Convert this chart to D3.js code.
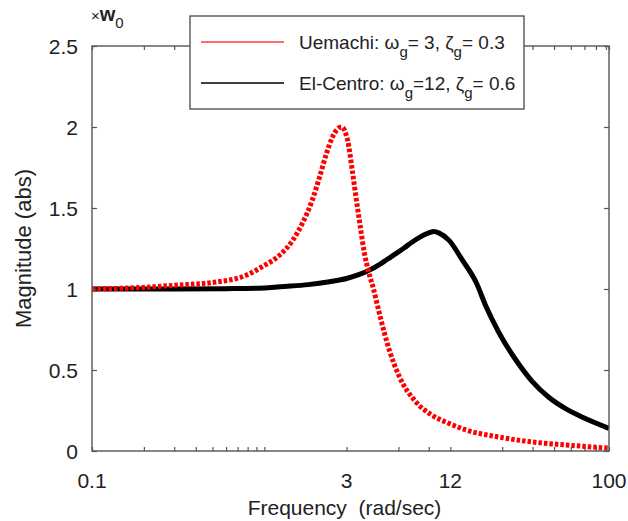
<!DOCTYPE html>
<html>
<head>
<meta charset="utf-8">
<script src="https://cdn.jsdelivr.net/npm/d3@7"></script>
<style>
  body { margin: 0; background: #fff; }
  svg { display: block; font-family: "Liberation Sans", Arial, sans-serif; }
</style>
</head>
<body>
<svg id="chart" width="628" height="521"></svg>
<script>
// data
var uemachiFreq = [0.1, 0.2, 0.32, 0.5, 0.79, 0.98, 1.23, 1.46, 1.67, 1.9, 2.09, 2.3, 2.49, 2.8, 3.04, 3.25, 3.42, 3.61, 3.81, 4.02, 4.3, 4.65, 5.32, 6.07, 7.62, 9.43, 11.8, 14.8, 23, 35.8, 56.3, 100];
var uemachiMag = [1.0, 1.01, 1.025, 1.04, 1.086, 1.14, 1.21, 1.3, 1.41, 1.55, 1.69, 1.84, 1.94, 2.0, 1.92, 1.72, 1.55, 1.38, 1.22, 1.11, 1.0, 0.85, 0.62, 0.46, 0.3, 0.22, 0.17, 0.13, 0.086, 0.056, 0.037, 0.018];

var elcentroFreq = [0.1, 0.3, 0.6, 1.0, 1.23, 1.8, 2.39, 3.0, 3.56, 4.0, 4.65, 5.2, 5.83, 6.5, 7.22, 8.0, 9.06, 9.6, 10.35, 11.8, 14.07, 16.96, 19.37, 23, 28.9, 35.8, 44.9, 56.3, 69.7, 100];
var elcentroMag = [1.0, 1.0, 1.002, 1.006, 1.014, 1.027, 1.045, 1.065, 1.09, 1.112, 1.15, 1.185, 1.22, 1.255, 1.29, 1.32, 1.348, 1.355, 1.345, 1.3, 1.18, 1.04, 0.89, 0.73, 0.56, 0.43, 0.33, 0.26, 0.21, 0.14];

var xTickLabels = [0.1, 3, 12, 100];
var xMinorTicks = [0.2, 0.3, 0.4, 0.5, 0.6, 0.7, 0.8, 0.9, 1, 6, 9, 24, 36, 48, 60, 72, 84, 96];
var yTicks = [0, 0.5, 1, 1.5, 2, 2.5];

var margin = { left: 92, right: 19, top: 46, bottom: 70 };
var W = 628, H = 521;
var svg = d3.select('#chart');

var x = d3.scaleLog().domain([0.1, 100]).range([margin.left, W - margin.right]);
var y = d3.scaleLinear().domain([0, 2.5]).range([H - margin.bottom, margin.top]);

var axisColor = '#555';
var textColor = '#222';

// curves
var line = d3.line()
  .x(function (d) { return x(d[0]); })
  .y(function (d) { return y(d[1]); })
  .curve(d3.curveMonotoneX);

var plot = svg.append('g');
plot.append('defs').append('clipPath').attr('id', 'clip')
  .append('rect').attr('x', margin.left).attr('y', margin.top)
  .attr('width', W - margin.left - margin.right).attr('height', H - margin.top - margin.bottom);

plot.append('path')
  .datum(d3.zip(elcentroFreq, elcentroMag))
  .attr('clip-path', 'url(#clip)')
  .attr('d', line)
  .attr('fill', 'none')
  .attr('stroke', '#000')
  .attr('stroke-width', 5);

plot.append('path')
  .datum(d3.zip(uemachiFreq, uemachiMag))
  .attr('clip-path', 'url(#clip)')
  .attr('d', line)
  .attr('fill', 'none')
  .attr('stroke', '#ff0000')
  .attr('stroke-width', 5)
  .attr('stroke-dasharray', '3.5 2');

// axes (ticks inward, mirrored on top/right)
var x0 = margin.left, x1 = W - margin.right, y0 = H - margin.bottom, y1 = margin.top;

var bottomAxis = svg.append('g').attr('transform', 'translate(0,' + y0 + ')')
  .call(d3.axisTop(x).tickValues(xTickLabels.concat(xMinorTicks)).tickSize(4).tickFormat(''));
var topAxis = svg.append('g').attr('transform', 'translate(0,' + y1 + ')')
  .call(d3.axisBottom(x).tickValues(xTickLabels.concat(xMinorTicks)).tickSize(4).tickFormat(''));
var leftAxis = svg.append('g').attr('transform', 'translate(' + x0 + ',0)')
  .call(d3.axisRight(y).tickValues(yTicks).tickSize(5).tickFormat(''));
var rightAxis = svg.append('g').attr('transform', 'translate(' + x1 + ',0)')
  .call(d3.axisLeft(y).tickValues(yTicks).tickSize(5).tickFormat(''));

[bottomAxis, topAxis, leftAxis, rightAxis].forEach(function (a) {
  a.select('.domain').remove();
  a.selectAll('line').attr('stroke', axisColor).attr('stroke-width', 1.2);
});

svg.append('rect')
  .attr('x', x0).attr('y', y1)
  .attr('width', x1 - x0).attr('height', y0 - y1)
  .attr('fill', 'none').attr('stroke', axisColor).attr('stroke-width', 1.4);

// tick labels
svg.append('g').selectAll('text').data(xTickLabels).join('text')
  .attr('x', function (d) { return x(d); })
  .attr('y', y0 + 37)
  .attr('text-anchor', 'middle')
  .attr('font-size', 21)
  .attr('fill', textColor)
  .text(function (d) { return d; });

svg.append('g').selectAll('text').data(yTicks).join('text')
  .attr('x', x0 - 14)
  .attr('y', function (d) { return y(d) + 7.5; })
  .attr('text-anchor', 'end')
  .attr('font-size', 21)
  .attr('fill', textColor)
  .text(function (d) { return d; });

// axis titles
svg.append('text')
  .attr('x', (x0 + x1) / 2 - 6)
  .attr('y', 515)
  .attr('text-anchor', 'middle')
  .attr('font-size', 21)
  .attr('fill', textColor)
  .attr('xml:space', 'preserve')
  .text('Frequency  (rad/sec)');

svg.append('text')
  .attr('transform', 'translate(31,' + ((y0 + y1) / 2) + ') rotate(-90)')
  .attr('text-anchor', 'middle')
  .attr('font-size', 22)
  .attr('fill', textColor)
  .text('Magnitude (abs)');

// ×w0 multiplier
var mult = svg.append('text').attr('x', 91).attr('y', 21).attr('fill', textColor);
mult.append('tspan').attr('font-size', 15).text('\u00d7');
mult.append('tspan').attr('font-size', 20).attr('font-weight', 'bold').text('w');
mult.append('tspan').attr('font-size', 15).attr('dy', 7).text('0');

// legend
var legend = svg.append('g');
legend.append('rect')
  .attr('x', 190).attr('y', 16).attr('width', 334).attr('height', 93)
  .attr('fill', '#fff').attr('stroke', axisColor).attr('stroke-width', 1.4);

var legendItems = [
  { color: '#ff3b3b', name: 'Uemachi: ', wg: '= 3, ', zg: '= 0.3', y: 42 },
  { color: '#000', name: 'El-Centro: ', wg: '=12, ', zg: '= 0.6', y: 83 }
];
legendItems.forEach(function (it) {
  legend.append('line')
    .attr('x1', 201).attr('x2', 284).attr('y1', it.y).attr('y2', it.y)
    .attr('stroke', it.color).attr('stroke-width', 1.5);
  var t = legend.append('text').attr('x', 299).attr('y', it.y + 7)
    .attr('font-size', 19).attr('fill', textColor).attr('xml:space', 'preserve');
  t.append('tspan').text(it.name + '\u03c9');
  t.append('tspan').attr('font-size', 15).attr('dy', 8).text('g');
  t.append('tspan').attr('dy', -8).text(it.wg + '\u03b6');
  t.append('tspan').attr('font-size', 15).attr('dy', 8).text('g');
  t.append('tspan').attr('dy', -8).text(it.zg);
});
</script>
</body>
</html>
